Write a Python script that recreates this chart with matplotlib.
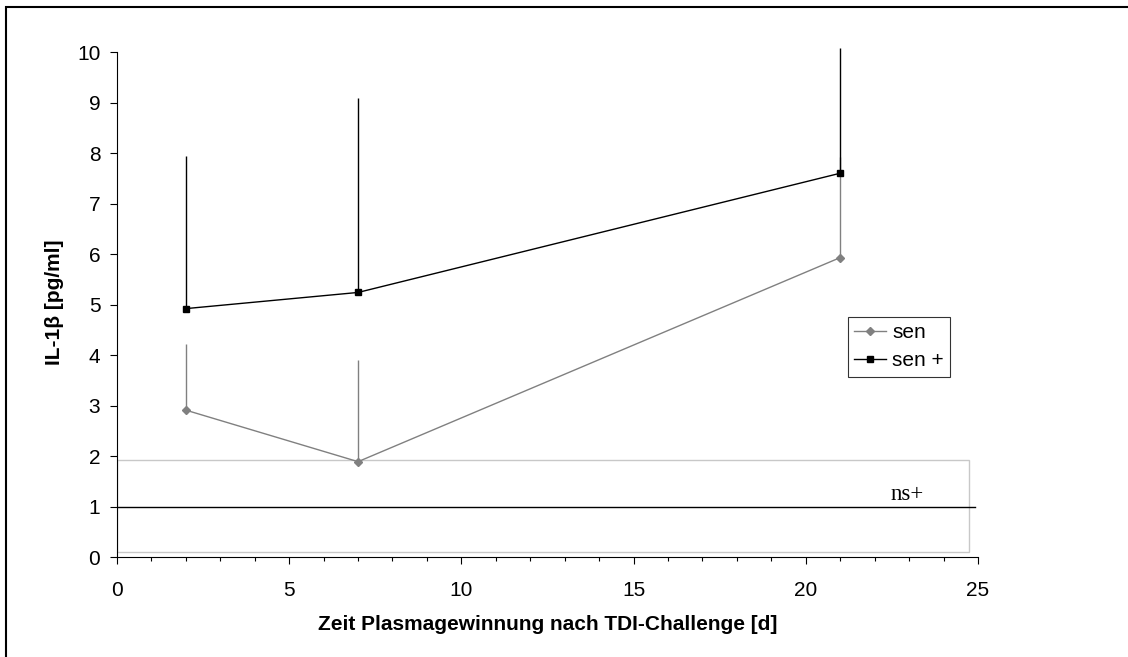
import numpy as np
import matplotlib.pyplot as plt
from matplotlib.patches import Rectangle
from matplotlib.lines import Line2D
from matplotlib.ticker import MultipleLocator

plt.rcParams['font.family'] = ['Liberation Sans', 'DejaVu Sans']

# days after TDI challenge
days = [2, 7, 21]
# IL-1beta [pg/ml], means and upper error bars
sen = [2.91, 1.89, 5.93]
sen_err = [1.30, 2.01, 2.0]
sen_plus = [4.92, 5.24, 7.60]
sen_plus_err = [3.03, 3.84, 2.48]
# reference band for non-sensitized (ns+)
band_low, band_high, band_right = 0.1, 1.93, 24.73
ns_level = 1.0

fig = plt.figure(figsize=(11.28, 6.57), dpi=100)
ax = fig.add_axes([0.1037, 0.152, 0.867 - 0.1037, 0.927 - 0.152])

# frame around the whole chart
fig.patches.append(Rectangle((0.0053, -0.1), 1.2, 1.0893, transform=fig.transFigure,
                             fill=False, ec='black', lw=1.5))

ax.add_patch(Rectangle((0, band_low), band_right, band_high - band_low,
                       fill=False, ec='#c8c8c8', lw=1.0, zorder=1))
ax.plot([0, 24.9], [ns_level, ns_level], color='black', lw=1.0, zorder=2)
ax.text(22.93, 1.13, 'ns+', family='Liberation Serif', fontsize=16.5, ha='center', va='baseline')

ax.errorbar(days, sen, yerr=[np.zeros(3), sen_err], color='#808080', lw=1.0,
            marker='D', ms=4.5, capsize=0, zorder=3)
ax.errorbar(days, sen_plus, yerr=[np.zeros(3), sen_plus_err], color='black', lw=1.0,
            marker='s', ms=5, capsize=0, zorder=4)

ax.set_xlim(0, 25)
ax.set_ylim(0, 10.08)
ax.spines['top'].set_visible(False)
ax.spines['right'].set_visible(False)
ax.spines['left'].set_bounds(0, 10)
ax.xaxis.set_major_locator(MultipleLocator(5))
ax.xaxis.set_minor_locator(MultipleLocator(1))
ax.set_yticks(range(0, 11))
ax.tick_params(axis='both', which='major', labelsize=15, length=5, width=0.8)
ax.tick_params(axis='x', which='minor', length=3, width=0.8)
ax.tick_params(axis='y', pad=7)
ax.tick_params(axis='x', pad=12)

ax.set_xlabel('Zeit Plasmagewinnung nach TDI-Challenge [d]', fontsize=15,
              fontweight='bold', labelpad=11)
ax.set_ylabel('IL-1β [pg/ml]', fontsize=15, fontweight='bold', labelpad=9)

handles = [Line2D([], [], color='#808080', lw=1.0, marker='D', ms=4.5),
           Line2D([], [], color='black', lw=1.0, marker='s', ms=5)]
leg = ax.legend(handles, ['sen', 'sen +'], loc='upper left', bbox_to_anchor=(0.8485, 0.472),
                fontsize=15, frameon=True, fancybox=False, edgecolor='black',
                handlelength=1.55, handletextpad=0.3, borderpad=0.3, labelspacing=0.45,
                borderaxespad=0)
leg.get_frame().set_linewidth(0.8)

fig.savefig('out.png', dpi=100)
